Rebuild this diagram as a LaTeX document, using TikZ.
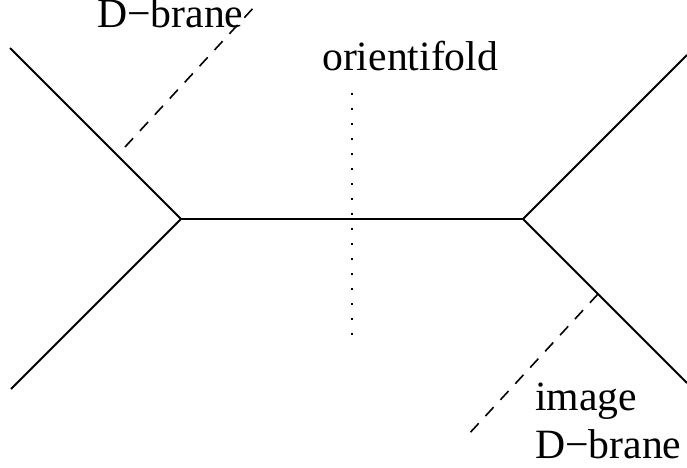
\documentclass[tikz,border=0pt]{standalone}
\usepackage{fontspec}
\setmainfont{Liberation Serif}
\begin{document}
\begin{tikzpicture}[x=1pt,y=-1pt,
  brane/.style={line width=1.8pt},
  dbrane/.style={line width=1.6pt,dash pattern=on 12pt off 10pt},
  ofold/.style={line width=1.8pt,dash pattern=on 1.8pt off 13.2pt},
  lbl/.style={inner sep=0pt,font=\fontsize{41.7}{48}\selectfont}]
\useasboundingbox (0,0) rectangle (687,467);
\coordinate (L) at (181,219);
\coordinate (R) at (523,219);
\coordinate (LU) at (10,48);
\coordinate (LD) at (11,389);
\coordinate (RU) at (687,55);
\coordinate (RD) at (687,383);
\draw[brane] (LU) -- (L) -- (LD);
\draw[brane] (L) -- (R);
\draw[brane] (RU) -- (R) -- (RD);
\coordinate (d1a) at (125,147);
\coordinate (d1b) at (256,5);
\draw[dbrane] (d1a) -- (d1b);
\coordinate (d2a) at (598,294);
\coordinate (d2b) at (467,436);
\draw[dbrane] (d2a) -- (d2b);
\coordinate (oa) at (352,93);
\coordinate (ob) at (352,336);
\draw[ofold] (oa) -- (ob);
\node[lbl,anchor=base west] (t1) at (97,27) {D−brane};
\node[lbl,anchor=base west] (t2) at (322,70) {orientifold};
\node[lbl,anchor=base west] (t3) at (535,410) {image};
\node[lbl,anchor=base west] (t4) at (535,458) {D−brane};
\end{tikzpicture}
\end{document}
